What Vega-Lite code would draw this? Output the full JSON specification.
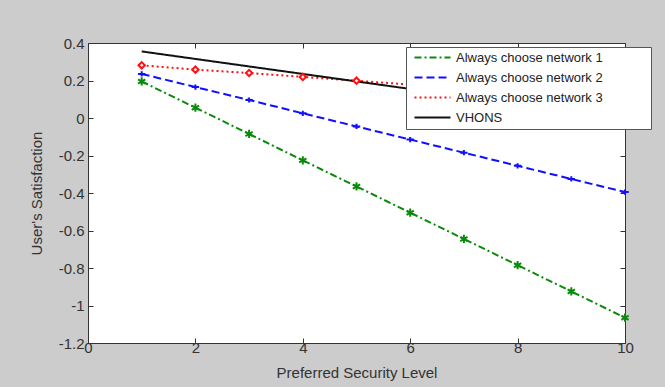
{
  "$schema": "https://vega.github.io/schema/vega-lite/v6.json",
  "width": 537,
  "height": 300,
  "autosize": {"type": "none"},
  "padding": {"left": 88, "top": 43, "right": 40, "bottom": 44},
  "background": "#cccccc",
  "config": {
    "view": {"fill": "white", "stroke": null},
    "font": "Liberation Sans",
    "axis": {
      "grid": false,
      "domainColor": "#333333",
      "tickColor": "#333333",
      "labelColor": "#333333",
      "titleColor": "#333333",
      "labelFont": "Liberation Sans",
      "titleFont": "Liberation Sans",
      "labelFontSize": 15,
      "titleFontSize": 15,
      "titleFontWeight": "normal",
      "tickSize": -5,
      "domainWidth": 1,
      "tickWidth": 1,
      "labelFlush": false
    },
    "legend": {
      "fillColor": "white", "strokeColor": "#555555", "padding": 4,
      "labelFont": "Liberation Sans", "labelFontSize": 13, "labelColor": "#222222",
      "symbolSize": 100, "symbolStrokeWidth": 2,
      "rowPadding": 6, "labelOffset": 17, "symbolOffset": 16, "labelLimit": 400
    }
  },
  "data": {
    "values": [
      {"level": 1, "value": 0.195, "series": "Always choose network 1"},
      {"level": 2, "value": 0.055, "series": "Always choose network 1"},
      {"level": 3, "value": -0.085, "series": "Always choose network 1"},
      {"level": 4, "value": -0.226, "series": "Always choose network 1"},
      {"level": 5, "value": -0.365, "series": "Always choose network 1"},
      {"level": 6, "value": -0.505, "series": "Always choose network 1"},
      {"level": 7, "value": -0.645, "series": "Always choose network 1"},
      {"level": 8, "value": -0.785, "series": "Always choose network 1"},
      {"level": 9, "value": -0.925, "series": "Always choose network 1"},
      {"level": 10, "value": -1.065, "series": "Always choose network 1"},
      {"level": 1, "value": 0.235, "series": "Always choose network 2"},
      {"level": 2, "value": 0.165, "series": "Always choose network 2"},
      {"level": 3, "value": 0.096, "series": "Always choose network 2"},
      {"level": 4, "value": 0.025, "series": "Always choose network 2"},
      {"level": 5, "value": -0.045, "series": "Always choose network 2"},
      {"level": 6, "value": -0.115, "series": "Always choose network 2"},
      {"level": 7, "value": -0.185, "series": "Always choose network 2"},
      {"level": 8, "value": -0.255, "series": "Always choose network 2"},
      {"level": 9, "value": -0.325, "series": "Always choose network 2"},
      {"level": 10, "value": -0.395, "series": "Always choose network 2"},
      {"level": 1, "value": 0.281, "series": "Always choose network 3"},
      {"level": 2, "value": 0.258, "series": "Always choose network 3"},
      {"level": 3, "value": 0.240, "series": "Always choose network 3"},
      {"level": 4, "value": 0.219, "series": "Always choose network 3"},
      {"level": 5, "value": 0.199, "series": "Always choose network 3"},
      {"level": 6, "value": 0.178, "series": "Always choose network 3"},
      {"level": 7, "value": 0.158, "series": "Always choose network 3"},
      {"level": 8, "value": 0.138, "series": "Always choose network 3"},
      {"level": 9, "value": 0.118, "series": "Always choose network 3"},
      {"level": 10, "value": 0.098, "series": "Always choose network 3"},
      {"level": 1, "value": 0.355, "series": "VHONS"},
      {"level": 2, "value": 0.315, "series": "VHONS"},
      {"level": 3, "value": 0.275, "series": "VHONS"},
      {"level": 4, "value": 0.235, "series": "VHONS"},
      {"level": 5, "value": 0.195, "series": "VHONS"},
      {"level": 6, "value": 0.155, "series": "VHONS"},
      {"level": 7, "value": 0.115, "series": "VHONS"},
      {"level": 8, "value": 0.075, "series": "VHONS"},
      {"level": 9, "value": 0.035, "series": "VHONS"},
      {"level": 10, "value": -0.005, "series": "VHONS"}
    ]
  },
  "layer": [
    {
      "mark": {"type": "line", "strokeWidth": 2},
      "encoding": {
        "x": {"field": "level", "type": "quantitative", "scale": {"domain": [0, 10], "nice": false}, "axis": {"values": [0, 2, 4, 6, 8, 10], "title": "Preferred Security Level", "titlePadding": 10, "labelPadding": 2}},
        "y": {"field": "value", "type": "quantitative", "scale": {"domain": [-1.2, 0.4], "nice": false}, "axis": {"values": [-1.2, -1, -0.8, -0.6, -0.4, -0.2, 0, 0.2, 0.4], "labelExpr": "'' + datum.value", "title": "User's Satisfaction", "labelPadding": 9, "titlePadding": 14}},
        "color": {
          "field": "series", "type": "nominal",
          "scale": {"domain": ["Always choose network 1", "Always choose network 2", "Always choose network 3", "VHONS"], "range": ["#0a8a0a", "#1010ff", "#ff1010", "#111111"]},
          "legend": {
            "title": null, "orient": "none", "legendX": 318, "legendY": 4,
            "symbolType": "M-3.6,0L3.6,0",
            "labelExpr": "datum.label + '\u00a0\u00a0\u00a0\u00a0\u00a0\u00a0\u00a0\u00a0\u00a0\u00a0\u00a0\u00a0\u200b'"
          }
        },
        "strokeDash": {
          "field": "series", "type": "nominal",
          "scale": {"domain": ["Always choose network 1", "Always choose network 2", "Always choose network 3", "VHONS"], "range": [[7, 3, 2, 3], [8, 4], [2, 3], [1, 0]]},
          "legend": {
            "title": null, "orient": "none", "legendX": 318, "legendY": 4,
            "symbolType": "M-3.6,0L3.6,0",
            "labelExpr": "datum.label + '\u00a0\u00a0\u00a0\u00a0\u00a0\u00a0\u00a0\u00a0\u00a0\u00a0\u00a0\u00a0\u200b'"
          }
        }
      }
    },
    {
      "transform": [{"filter": "datum.series != 'VHONS'"}],
      "mark": {"type": "point", "filled": false, "strokeWidth": 2, "opacity": 1},
      "encoding": {
        "x": {"field": "level", "type": "quantitative", "axis": {"orient": "top", "values": [0, 2, 4, 6, 8, 10], "labels": false, "title": null}},
        "y": {"field": "value", "type": "quantitative", "axis": {"orient": "right", "values": [-1.2, -1, -0.8, -0.6, -0.4, -0.2, 0, 0.2, 0.4], "labels": false, "title": null}},
        "stroke": {
          "field": "series", "type": "nominal", "legend": null,
          "scale": {"domain": ["Always choose network 1", "Always choose network 2", "Always choose network 3"], "range": ["#0a8a0a", "#1010ff", "#ff1010"]}
        },
        "fill": {
          "field": "series", "type": "nominal", "legend": null,
          "scale": {"domain": ["Always choose network 1", "Always choose network 2", "Always choose network 3"], "range": ["#0a8a0a", "#1010ff", "#ffffff"]}
        },
        "shape": {
          "field": "series", "type": "nominal", "legend": null,
          "scale": {"domain": ["Always choose network 1", "Always choose network 2", "Always choose network 3"], "range": ["M0,-1L0,1M-0.87,-0.5L0.87,0.5M-0.87,0.5L0.87,-0.5", "M-1,0L1,0M0,-0.7L0,0.7", "diamond"]}
        },
        "size": {
          "field": "series", "type": "nominal", "legend": null,
          "scale": {"domain": ["Always choose network 1", "Always choose network 2", "Always choose network 3"], "range": [70, 40, 80]}
        }
      }
    }
  ],
  "resolve": {"axis": {"x": "independent", "y": "independent"}}
}
